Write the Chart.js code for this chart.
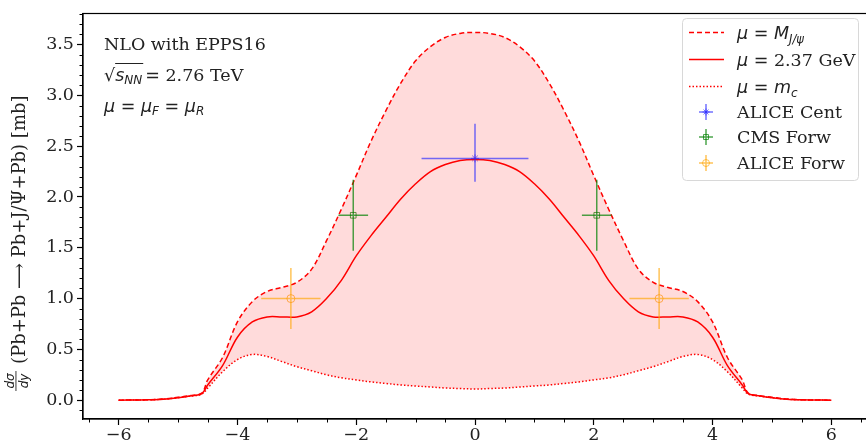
<!DOCTYPE html>
<html>
<head>
<meta charset="utf-8">
<script src="https://cdn.jsdelivr.net/npm/chart.js@4.4.1/dist/chart.umd.min.js"></script>
<style>
  html, body { margin: 0; padding: 0; background: #fff; overflow: hidden; }
  canvas { display: block; }
</style>
</head>
<body>
<canvas id="chart" width="872" height="444"></canvas>
<script>
// rapidity grid and the three scale choices (dsigma/dy in mb)
const rapidity = [-6, -5.5, -5.25, -5, -4.8, -4.6, -4.5, -4.25, -4, -3.75, -3.5, -3.25, -3, -2.75, -2.5, -2.25, -2, -1.75, -1.5, -1.25, -1, -0.75, -0.5, -0.25,
  0, 0.25, 0.5, 0.75, 1, 1.25, 1.5, 1.75, 2, 2.25, 2.5, 2.75, 3, 3.25, 3.5, 3.75, 4, 4.25, 4.5, 4.6, 4.8, 5, 5.25, 5.5, 6];
const muMJpsi = [0, 0.004, 0.012, 0.028, 0.045, 0.07, 0.2, 0.42, 0.77, 0.97, 1.07, 1.11, 1.16, 1.29, 1.57, 1.88, 2.21, 2.55, 2.85, 3.12, 3.34, 3.48, 3.57, 3.61,
  3.62, 3.61, 3.57, 3.48, 3.34, 3.12, 2.85, 2.55, 2.21, 1.88, 1.57, 1.29, 1.16, 1.11, 1.07, 0.97, 0.77, 0.42, 0.2, 0.07, 0.045, 0.028, 0.012, 0.004, 0];
const mu237 = [0, 0.004, 0.01, 0.025, 0.042, 0.065, 0.15, 0.34, 0.62, 0.77, 0.82, 0.82, 0.82, 0.87, 1.0, 1.18, 1.42, 1.62, 1.8, 1.98, 2.13, 2.25, 2.32, 2.36,
  2.37, 2.36, 2.32, 2.25, 2.13, 1.98, 1.8, 1.62, 1.42, 1.18, 1.0, 0.87, 0.82, 0.82, 0.82, 0.77, 0.62, 0.34, 0.15, 0.065, 0.042, 0.025, 0.01, 0.004, 0];
const muMc = [0, 0.004, 0.01, 0.025, 0.04, 0.06, 0.12, 0.28, 0.4, 0.45, 0.43, 0.38, 0.33, 0.29, 0.25, 0.22, 0.2, 0.18, 0.165, 0.15, 0.14, 0.13, 0.12, 0.115,
  0.11, 0.115, 0.12, 0.13, 0.14, 0.15, 0.165, 0.18, 0.2, 0.22, 0.25, 0.29, 0.33, 0.38, 0.43, 0.45, 0.4, 0.28, 0.12, 0.06, 0.04, 0.025, 0.01, 0.004, 0];

// measurements
const aliceCentX = [0];
const aliceCentY = [2.38];
const aliceCentXErr = [0.9];
const aliceCentYUp = [0.34];
const aliceCentYDown = [0.23];

const cmsX = [-2.05, 2.05];
const cmsY = [1.82, 1.82];
const cmsXErr = [0.25, 0.25];
const cmsYErr = [0.35, 0.35];

const aliceForwX = [-3.1, 3.1];
const aliceForwY = [1.0, 1.0];
const aliceForwXErr = [0.5, 0.5];
const aliceForwYErr = [0.3, 0.3];

const xTicks = [-6, -4, -2, 0, 2, 4, 6];
const yTicks = [0, 0.5, 1, 1.5, 2, 2.5, 3, 3.5];

const SERIF = 'DejaVu Serif';
const SANS = 'DejaVu Sans';
const FS = 17.5;

const toPts = (xs, ys) => xs.map((x, i) => ({ x: x, y: ys[i] }));

const errSets = [
  { xs: aliceCentX, ys: aliceCentY, xe: aliceCentXErr, up: aliceCentYUp, down: aliceCentYDown, color: 'rgba(40,40,255,0.65)' },
  { xs: cmsX, ys: cmsY, xe: cmsXErr, up: cmsYErr, down: cmsYErr, color: 'rgba(0,128,0,0.7)' },
  { xs: aliceForwX, ys: aliceForwY, xe: aliceForwXErr, up: aliceForwYErr, down: aliceForwYErr, color: 'rgba(255,165,0,0.65)' },
];

function drawRuns(ctx, x, y, parts) {
  parts.forEach(p => {
    ctx.font = p.f;
    ctx.fillText(p.t, x, y + (p.dy || 0));
    x += ctx.measureText(p.t).width;
  });
  return x;
}

const it = s => 'italic ' + s + 'px ' + SANS;
const rm = s => s + 'px ' + SANS;
const sf = s => s + 'px ' + SERIF;

// error bars drawn through the scales
const errorBars = {
  id: 'errorBars',
  afterDatasetsDraw(chart) {
    const { ctx, scales: { x, y } } = chart;
    ctx.save();
    ctx.lineWidth = 1.5;
    errSets.forEach(s => {
      ctx.strokeStyle = s.color;
      s.xs.forEach((xv, i) => {
        const yv = s.ys[i];
        ctx.beginPath();
        ctx.moveTo(x.getPixelForValue(xv - s.xe[i]), y.getPixelForValue(yv));
        ctx.lineTo(x.getPixelForValue(xv + s.xe[i]), y.getPixelForValue(yv));
        ctx.moveTo(x.getPixelForValue(xv), y.getPixelForValue(yv - s.down[i]));
        ctx.lineTo(x.getPixelForValue(xv), y.getPixelForValue(yv + s.up[i]));
        ctx.stroke();
      });
    });
    ctx.restore();
  }
};

// frame, minor ticks, labels, legend
const decorations = {
  id: 'decorations',
  afterDraw(chart) {
    const { ctx, chartArea: a, scales: { x, y } } = chart;
    ctx.save();
    ctx.strokeStyle = '#000';
    ctx.lineWidth = 1.2;
    ctx.strokeRect(a.left, a.top, a.right - a.left, a.bottom - a.top);

    // minor ticks
    ctx.lineWidth = 1;
    ctx.beginPath();
    for (let v = -6.5; v <= 6.5; v += 0.5) {
      if (xTicks.includes(v)) continue;
      const px = Math.round(x.getPixelForValue(v)) + 0.5;
      if (px < a.left || px > a.right) continue;
      ctx.moveTo(px, a.bottom);
      ctx.lineTo(px, a.bottom + 3.5);
    }
    for (let k = -1; k <= 38; k++) {
      if (k % 5 === 0) continue;
      const py = Math.round(y.getPixelForValue(k / 10)) + 0.5;
      ctx.moveTo(a.left, py);
      ctx.lineTo(a.left - 3.5, py);
    }
    ctx.stroke();

    // y-axis title
    ctx.fillStyle = '#222';
    ctx.save();
    ctx.translate(20, 240);
    ctx.rotate(-Math.PI / 2);
    ctx.textBaseline = 'alphabetic';
    ctx.textAlign = 'center';
    ctx.font = it(12);
    ctx.fillText('d\u03C3', -141, -6);
    ctx.fillText('dy', -141, 8);
    ctx.fillRect(-151, -4.5, 20, 0.9);
    ctx.textAlign = 'left';
    ctx.font = sf(18);
    ctx.fillText('(Pb+Pb \u27F6 Pb+J/\u03A8+Pb) [mb]', -124, 5);
    ctx.restore();

    // annotation
    ctx.fillStyle = '#222';
    ctx.textAlign = 'left';
    drawRuns(ctx, 104, 50, [{ t: 'NLO with EPPS16', f: sf(FS) }]);
    let sx = 104;
    ctx.font = rm(FS);
    ctx.fillText('\u221A', sx, 81);
    sx += ctx.measureText('\u221A').width;
    const barStart = sx;
    sx = drawRuns(ctx, sx, 81, [{ t: 's', f: it(FS) }, { t: 'NN', f: it(12), dy: 3 }]);
    ctx.fillRect(barStart, 63, sx - barStart + 1, 1);
    drawRuns(ctx, sx + 3, 81, [{ t: '= ', f: rm(FS) }, { t: '2.76 TeV', f: sf(FS) }]);
    drawRuns(ctx, 104, 112, [
      { t: '\u03BC', f: it(FS) }, { t: ' = ', f: rm(FS) }, { t: '\u03BC', f: it(FS) }, { t: 'F', f: it(12), dy: 3 },
      { t: ' = ', f: rm(FS) }, { t: '\u03BC', f: it(FS) }, { t: 'R', f: it(12), dy: 3 }
    ]);

    // legend box
    const lx = 682, ly = 18, lw = 176, lh = 162;
    ctx.beginPath();
    ctx.roundRect(lx + 0.5, ly + 0.5, lw, lh, 4);
    ctx.fillStyle = 'rgba(255,255,255,0.85)';
    ctx.fill();
    ctx.strokeStyle = '#d8d8d8';
    ctx.lineWidth = 1;
    ctx.stroke();

    const rows = [33, 60, 87, 112, 137, 163];
    const dashes = [[5, 3], [], [1.5, 2]];
    ctx.strokeStyle = 'red';
    ctx.lineWidth = 1.5;
    dashes.forEach((d, i) => {
      ctx.setLineDash(d);
      ctx.beginPath();
      ctx.moveTo(689, rows[i] - 0.5);
      ctx.lineTo(724, rows[i] - 0.5);
      ctx.stroke();
    });
    ctx.setLineDash([]);
    ctx.fillStyle = '#222';
    const tb = r => r + 6;
    drawRuns(ctx, 737, tb(rows[0]), [{ t: '\u03BC', f: it(FS) }, { t: ' = ', f: rm(FS) }, { t: 'M', f: it(FS) }, { t: 'J/\u03C8', f: it(11.5), dy: 4 }]);
    drawRuns(ctx, 737, tb(rows[1]), [{ t: '\u03BC', f: it(FS) }, { t: ' = ', f: rm(FS) }, { t: '2.37 GeV', f: sf(FS) }]);
    drawRuns(ctx, 737, tb(rows[2]), [{ t: '\u03BC', f: it(FS) }, { t: ' = ', f: rm(FS) }, { t: 'm', f: it(FS) }, { t: 'c', f: it(12), dy: 4 }]);
    const names = ['ALICE Cent', 'CMS Forw', 'ALICE Forw'];
    const styles = ['star', 'rect', 'circle'];
    names.forEach((n, i) => {
      const cy = rows[i + 3];
      const cx = 706;
      ctx.strokeStyle = errSets[i].color;
      ctx.lineWidth = 1.5;
      ctx.beginPath();
      ctx.moveTo(cx - 7, cy); ctx.lineTo(cx + 7, cy);
      ctx.moveTo(cx, cy - 8); ctx.lineTo(cx, cy + 8);
      ctx.stroke();
      ctx.fillStyle = 'rgba(0,0,0,0)';
      ctx.lineWidth = 1;
      Chart.helpers.drawPoint(ctx, { pointStyle: styles[i], radius: 3.5, borderWidth: 1 }, cx, cy);
      ctx.fillStyle = '#222';
      drawRuns(ctx, 737, tb(cy), [{ t: n, f: sf(FS) }]);
    });
    ctx.restore();
  }
};

const curveStyle = { borderColor: 'red', borderWidth: 1.5, pointRadius: 0, tension: 0.35 };

new Chart(document.getElementById('chart'), {
  type: 'line',
  data: {
    datasets: [
      { ...curveStyle, label: 'mu = M_J/psi', data: toPts(rapidity, muMJpsi), borderDash: [5, 3],
        fill: { target: 2 }, backgroundColor: 'rgba(255,0,0,0.14)' },
      { ...curveStyle, label: 'mu = 2.37 GeV', data: toPts(rapidity, mu237), fill: false },
      { ...curveStyle, label: 'mu = m_c', data: toPts(rapidity, muMc), borderDash: [1.5, 2], fill: false },
      { type: 'scatter', label: 'ALICE Cent', data: toPts(aliceCentX, aliceCentY), pointStyle: 'star', pointRadius: 4,
        borderColor: errSets[0].color, backgroundColor: 'transparent', borderWidth: 1 },
      { type: 'scatter', label: 'CMS Forw', data: toPts(cmsX, cmsY), pointStyle: 'rect', pointRadius: 4,
        borderColor: errSets[1].color, backgroundColor: 'transparent', borderWidth: 1 },
      { type: 'scatter', label: 'ALICE Forw', data: toPts(aliceForwX, aliceForwY), pointStyle: 'circle', pointRadius: 4,
        borderColor: errSets[2].color, backgroundColor: 'transparent', borderWidth: 1 },
    ]
  },
  options: {
    responsive: false,
    animation: false,
    layout: { padding: { top: 8, right: 4, left: 0, bottom: 0 } },
    plugins: {
      legend: { display: false },
      tooltip: { enabled: false },
      filler: { propagate: false },
    },
    scales: {
      x: {
        type: 'linear',
        min: -6.6,
        max: 6.6,
        afterBuildTicks: s => { s.ticks = xTicks.map(v => ({ value: v })); },
        afterFit: s => { s.height = 25; },
        grid: { drawOnChartArea: false, drawTicks: true, tickLength: 6, tickColor: '#000', tickWidth: 1.2 },
        border: { display: true, color: '#000', width: 1.2 },
        ticks: {
          color: '#222',
          padding: 0,
          maxRotation: 0,
          font: { family: SERIF, size: FS },
          callback: v => String(v).replace('-', '\u2212'),
        },
      },
      y: {
        type: 'linear',
        min: -0.185,
        max: 3.806,
        afterBuildTicks: s => { s.ticks = yTicks.map(v => ({ value: v })); },
        afterFit: s => { s.width = 83; },
        grid: { drawOnChartArea: false, drawTicks: true, tickLength: 6, tickColor: '#000', tickWidth: 1.2 },
        border: { display: true, color: '#000', width: 1.2 },
        ticks: {
          color: '#222',
          padding: 3,
          font: { family: SERIF, size: FS },
          callback: v => v.toFixed(1),
        },
      },
    },
  },
  plugins: [errorBars, decorations],
});
</script>
</body>
</html>
